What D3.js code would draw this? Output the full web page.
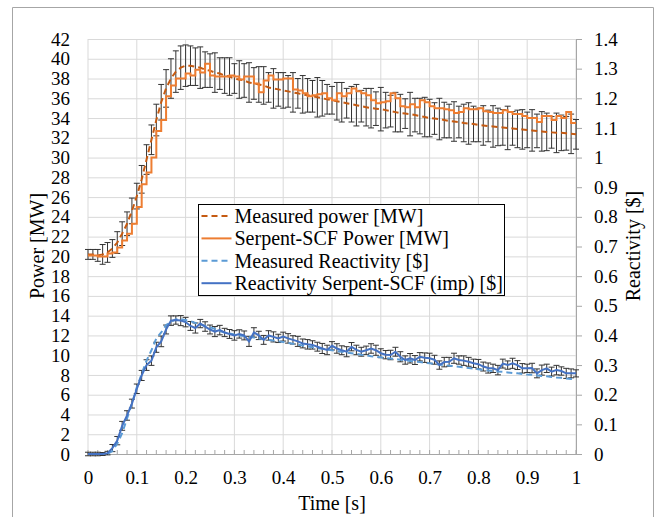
<!DOCTYPE html>
<html>
<head>
<meta charset="utf-8">
<style>
  body { margin: 0; background: #fff; }
  svg { display: block; }
  svg text { font-family: "Liberation Serif", "Times New Roman", Times, "DejaVu Serif", serif; }
</style>
</head>
<body>
<svg width="661" height="517"></svg>
<script src="https://cdn.jsdelivr.net/npm/d3@7"></script>
<script>
// time axis [s]
const times = [
  0.00, 0.01, 0.02, 0.03, 0.04, 0.05, 0.06, 0.07, 0.08, 0.09,
  0.10, 0.11, 0.12, 0.13, 0.14, 0.15, 0.16, 0.17, 0.18, 0.19,
  0.20, 0.21, 0.22, 0.23, 0.24, 0.25, 0.26, 0.27, 0.28, 0.29,
  0.30, 0.31, 0.32, 0.33, 0.34, 0.35, 0.36, 0.37, 0.38, 0.39,
  0.40, 0.41, 0.42, 0.43, 0.44, 0.45, 0.46, 0.47, 0.48, 0.49,
  0.50, 0.51, 0.52, 0.53, 0.54, 0.55, 0.56, 0.57, 0.58, 0.59,
  0.60, 0.61, 0.62, 0.63, 0.64, 0.65, 0.66, 0.67, 0.68, 0.69,
  0.70, 0.71, 0.72, 0.73, 0.74, 0.75, 0.76, 0.77, 0.78, 0.79,
  0.80, 0.81, 0.82, 0.83, 0.84, 0.85, 0.86, 0.87, 0.88, 0.89,
  0.90, 0.91, 0.92, 0.93, 0.94, 0.95, 0.96, 0.97, 0.98, 0.99,
  1.00
]

// Measured power [MW]
const measPower = [
  20.2, 20.2, 20.1, 20.2, 20.4, 20.8, 21.4, 22.3, 23.3, 24.6,
  26.1, 27.8, 29.8, 31.8, 33.8, 35.6, 37.0, 38.0, 38.7, 39.1,
  39.3, 39.3, 39.2, 39.1, 38.9, 38.8, 38.6, 38.5, 38.3, 38.2,
  38.0, 37.9, 37.8, 37.6, 37.5, 37.4, 37.3, 37.1, 37.0, 36.9,
  36.8, 36.7, 36.6, 36.5, 36.4, 36.3, 36.2, 36.1, 36.0, 35.9,
  35.8, 35.7, 35.6, 35.5, 35.4, 35.3, 35.2, 35.1, 35.0, 34.95,
  34.9, 34.8, 34.7, 34.6, 34.5, 34.45, 34.4, 34.3, 34.2, 34.1,
  34.0, 33.95, 33.9, 33.8, 33.7, 33.65, 33.6, 33.5, 33.45, 33.4,
  33.3, 33.25, 33.2, 33.15, 33.1, 33.05, 33.0, 32.95, 32.9, 32.85,
  32.8, 32.75, 32.7, 32.65, 32.6, 32.55, 32.5, 32.5, 32.45, 32.4,
  32.35
]

// error bar half-width on measured power [MW]
const measPowerErr = [
  0.5, 0.5, 0.6, 1.0, 1.0, 0.9, 1.1, 1.2, 1.2, 1.3,
  1.3, 1.4, 1.5, 1.5, 1.6, 1.8, 1.9, 2.0, 2.1, 2.2,
  2.1, 2.0, 1.9, 2.1, 1.8, 1.7, 2.0, 1.6, 1.8, 1.9,
  1.5, 1.9, 1.7, 2.0, 1.6, 1.8, 1.9, 1.5, 2.0, 1.7,
  1.8, 1.6, 2.0, 1.5, 1.9, 1.7, 1.6, 2.0, 1.8, 1.5,
  1.4, 1.9, 2.0, 1.5, 1.8, 2.1, 1.6, 1.9, 2.0, 1.7,
  2.2, 1.8, 1.6, 2.0, 1.9, 1.5, 2.2, 1.7, 1.8, 2.0,
  1.9, 1.6, 2.1, 1.8, 1.7, 2.0, 1.6, 1.9, 2.1, 1.8,
  1.7, 2.0, 1.6, 2.1, 1.9, 1.8, 2.2, 1.7, 1.9, 2.0,
  1.8, 2.1, 1.7, 2.0, 1.9, 1.6, 2.0, 1.8, 1.7, 2.0,
  1.5
]

// Serpent-SCF Power [MW]
const serpPower = [
  20.1, 20.1, 20.0, 20.0, 20.3, 20.4, 20.9, 21.6, 22.3, 23.3,
  25.0, 27.3, 28.5, 30.0, 32.7, 33.8, 36.2, 37.3, 38.0, 38.0,
  38.5, 38.3, 38.9, 38.6, 39.5, 38.3, 38.2, 38.2, 38.2, 38.3,
  38.2, 37.9, 38.2, 38.2, 37.5, 36.6, 37.8, 38.3, 37.9, 37.9,
  38.0, 38.0, 36.9, 36.8, 36.5, 36.2, 36.3, 36.4, 36.5, 36.0,
  35.8, 36.5, 36.2, 36.5, 37.0, 36.7, 36.5, 36.3, 35.8, 35.5,
  35.6, 35.7, 36.5, 36.0, 35.2, 35.1, 35.4, 35.1, 35.8, 35.6,
  35.2, 35.0, 35.0, 34.9, 34.8, 34.5, 34.6, 35.0, 34.9, 34.9,
  35.0, 34.7, 34.6, 34.5, 34.5, 34.8, 34.6, 34.4, 34.4, 34.2,
  34.0, 34.0, 33.6, 34.2, 34.2, 33.8, 34.2, 34.0, 34.6, 33.5,
  33.5
]

// Measured Reactivity [$]
const measReact = [
  0.0, 0.0, 0.0, 0.0, 0.0, 0.01, 0.035, 0.07, 0.12, 0.17,
  0.225, 0.27, 0.315, 0.35, 0.39, 0.41, 0.435, 0.445, 0.455, 0.455,
  0.452, 0.448, 0.442, 0.438, 0.432, 0.428, 0.422, 0.415, 0.41, 0.407,
  0.403, 0.4, 0.398, 0.395, 0.393, 0.39, 0.388, 0.385, 0.383, 0.38,
  0.378, 0.375, 0.372, 0.369, 0.366, 0.363, 0.36, 0.357, 0.355, 0.352,
  0.35, 0.347, 0.345, 0.342, 0.34, 0.338, 0.335, 0.333, 0.33, 0.328,
  0.326, 0.324, 0.322, 0.32, 0.318, 0.316, 0.314, 0.312, 0.31, 0.308,
  0.306, 0.304, 0.302, 0.3, 0.298, 0.296, 0.294, 0.292, 0.29, 0.288,
  0.286, 0.284, 0.282, 0.28, 0.278, 0.277, 0.275, 0.273, 0.272, 0.27,
  0.268, 0.267, 0.265, 0.263, 0.262, 0.26, 0.258, 0.257, 0.255, 0.253,
  0.252
]

// Reactivity Serpent-SCF (imp) [$]
const serpReact = [
  0.0, 0.0, 0.0, 0.0, 0.003, 0.02, 0.045, 0.095, 0.13, 0.17,
  0.22, 0.265, 0.3, 0.315, 0.36, 0.38, 0.42, 0.45, 0.452, 0.45,
  0.445, 0.432, 0.425, 0.44, 0.43, 0.42, 0.413, 0.418, 0.41, 0.405,
  0.4, 0.405, 0.4, 0.38, 0.41, 0.4, 0.385, 0.4, 0.395, 0.39,
  0.396, 0.39, 0.385, 0.38, 0.373, 0.37, 0.368, 0.362, 0.356, 0.351,
  0.365, 0.356, 0.35, 0.345, 0.362, 0.351, 0.345, 0.35, 0.356, 0.35,
  0.34, 0.335, 0.334, 0.345, 0.328, 0.317, 0.323, 0.317, 0.328, 0.325,
  0.323, 0.318, 0.3, 0.31, 0.311, 0.323, 0.317, 0.315, 0.311, 0.306,
  0.303, 0.295, 0.29, 0.289, 0.283, 0.305, 0.3, 0.306, 0.3, 0.289,
  0.289, 0.29, 0.272, 0.283, 0.289, 0.278, 0.283, 0.28, 0.272, 0.272,
  0.272
]

// error bar half-width on reactivity [$]
const reactErr = [
  0.006, 0.006, 0.006, 0.005, 0.006, 0.012, 0.014, 0.015, 0.016, 0.015,
  0.016, 0.017, 0.018, 0.016, 0.017, 0.018, 0.015, 0.016, 0.014, 0.017,
  0.016, 0.015, 0.017, 0.014, 0.016, 0.015, 0.017, 0.016, 0.014, 0.015,
  0.016, 0.014, 0.015, 0.017, 0.016, 0.014, 0.015, 0.016, 0.017, 0.014,
  0.015, 0.016, 0.014, 0.017, 0.015, 0.016, 0.014, 0.015, 0.017, 0.016,
  0.014, 0.016, 0.015, 0.017, 0.014, 0.016, 0.015, 0.014, 0.016, 0.017,
  0.015, 0.014, 0.016, 0.015, 0.017, 0.014, 0.016, 0.015, 0.014, 0.016,
  0.017, 0.015, 0.014, 0.016, 0.015, 0.017, 0.014, 0.016, 0.015, 0.014,
  0.016, 0.015, 0.017, 0.014, 0.016, 0.015, 0.014, 0.017, 0.015, 0.016,
  0.014, 0.016, 0.015, 0.017, 0.014, 0.015, 0.016, 0.014, 0.017, 0.015,
  0.012
]

// tick labels
const powerTicks = [0, 2, 4, 6, 8, 10, 12, 14, 16, 18, 20, 22, 24, 26, 28, 30, 32, 34, 36, 38, 40, 42]
const reactTicks = [0, 0.1, 0.2, 0.3, 0.4, 0.5, 0.6, 0.7, 0.8, 0.9, 1, 1.1, 1.2, 1.3, 1.4]
const timeTicks = [0, 0.1, 0.2, 0.3, 0.4, 0.5, 0.6, 0.7, 0.8, 0.9, 1]

const legendItems = [
  { label: 'Measured power [MW]', color: '#c55a11', dash: '6,4' },
  { label: 'Serpent-SCF Power [MW]', color: '#ed7d31', dash: null },
  { label: 'Measured Reactivity [$]', color: '#5b9bd5', dash: '6,4' },
  { label: 'Reactivity Serpent-SCF (imp) [$]', color: '#4472c4', dash: null }
]

const serif = '"Liberation Serif", "Times New Roman", Times, "DejaVu Serif", serif'

const svg = d3.select('svg')
const width = +svg.attr('width')
const height = +svg.attr('height')
const margin = { top: 39, right: 85, bottom: 63, left: 88 }
const innerWidth = width - margin.left - margin.right
const innerHeight = height - margin.top - margin.bottom

const fmt = d => String(Math.round(d * 10) / 10)

// outer chart border (runs off the bottom edge like the original)
svg.append('path')
  .attr('d', `M12.5,${height} V7.5 H653.5 V${height}`)
  .attr('fill', 'none')
  .attr('stroke', '#a6a6a6')

const xScale = d3.scaleLinear().domain([0, 1]).range([0, innerWidth])
const yPower = d3.scaleLinear().domain([0, 42]).range([innerHeight, 0])
const yReact = d3.scaleLinear().domain([0, 1.4]).range([innerHeight, 0])

const g = svg.append('g')
  .attr('transform', `translate(${margin.left}, ${margin.top})`)

// vertical grid
g.selectAll('.vgrid').data(timeTicks)
  .enter().append('line')
  .attr('class', 'vgrid')
  .attr('x1', d => xScale(d)).attr('x2', d => xScale(d))
  .attr('y1', 0).attr('y2', innerHeight)
  .attr('stroke', '#d9d9d9')

// left axis + horizontal grid
const yAxisG = g.append('g')
  .call(d3.axisLeft(yPower).tickValues(powerTicks).tickSize(-innerWidth).tickPadding(18).tickFormat(fmt))
yAxisG.select('.domain').remove()
yAxisG.selectAll('.tick line').attr('stroke', '#d9d9d9')

// bottom axis
const xAxisG = g.append('g')
  .attr('transform', `translate(0, ${innerHeight})`)
  .call(d3.axisBottom(xScale).tickValues(timeTicks).tickSize(0).tickSizeOuter(0).tickPadding(17).tickFormat(fmt))
xAxisG.select('.domain').attr('stroke', '#a6a6a6')

g.selectAll('.minor').data(xScale.ticks(50))
  .enter().append('line')
  .attr('class', 'minor')
  .attr('x1', d => xScale(d)).attr('x2', d => xScale(d))
  .attr('y1', innerHeight).attr('y2', innerHeight - 4)
  .attr('stroke', '#a6a6a6')

// right axis
const yRAxisG = g.append('g')
  .attr('transform', `translate(${innerWidth}, 0)`)
  .call(d3.axisRight(yReact).tickValues(reactTicks).tickSize(6).tickSizeOuter(0).tickPadding(12).tickFormat(fmt))
yRAxisG.select('.domain').attr('stroke', '#a6a6a6')
yRAxisG.selectAll('.tick line').attr('stroke', '#a6a6a6')

g.selectAll('.tick text')
  .attr('font-family', serif)
  .attr('font-size', 19)
  .attr('fill', '#000')

const drawErrorBars = (cls, vals, errs, yScale) => {
  const eb = g.append('g').attr('class', cls)
    .attr('stroke', '#333').attr('stroke-width', 1)
  times.forEach((t, i) => {
    const x = xScale(t)
    const y0 = yScale(vals[i] - errs[i])
    const y1 = yScale(vals[i] + errs[i])
    eb.append('line').attr('x1', x).attr('x2', x).attr('y1', y0).attr('y2', y1)
    eb.append('line').attr('x1', x - 3).attr('x2', x + 3).attr('y1', y0).attr('y2', y0)
    eb.append('line').attr('x1', x - 3).attr('x2', x + 3).attr('y1', y1).attr('y2', y1)
  })
}

const drawLine = (vals, yScale, color, dash, curve) => {
  const line = d3.line()
    .x((d, i) => xScale(times[i]))
    .y(d => yScale(d))
    .curve(curve || d3.curveLinear)
  g.append('path')
    .datum(vals)
    .attr('d', line)
    .attr('fill', 'none')
    .attr('stroke', color)
    .attr('stroke-width', 2)
    .attr('stroke-dasharray', dash)
}

drawErrorBars('err-power', measPower, measPowerErr, yPower)
drawLine(measPower, yPower, legendItems[0].color, legendItems[0].dash)
drawLine(serpPower, yPower, legendItems[1].color, null, d3.curveStepAfter)

drawErrorBars('err-react', serpReact, reactErr, yReact)
drawLine(measReact, yReact, legendItems[2].color, legendItems[2].dash)
drawLine(serpReact, yReact, legendItems[3].color, null)

// axis titles
svg.append('text')
  .attr('transform', 'translate(37, 246) rotate(-90)')
  .attr('text-anchor', 'middle').attr('dy', '0.35em')
  .attr('font-family', serif)
  .attr('font-size', 20)
  .text('Power [MW]')

svg.append('text')
  .attr('transform', 'translate(633, 246) rotate(-90)')
  .attr('text-anchor', 'middle').attr('dy', '0.35em')
  .attr('font-family', serif)
  .attr('font-size', 20)
  .text('Reactivity [$]')

svg.append('text')
  .attr('x', 332).attr('y', 503)
  .attr('text-anchor', 'middle').attr('dy', '0.35em')
  .attr('font-family', serif)
  .attr('font-size', 20)
  .text('Time [s]')

// legend
const legend = svg.append('g')
  .attr('transform', 'translate(198.5, 204.5)')

legend.append('rect')
  .attr('width', 306).attr('height', 91)
  .attr('fill', '#fff')
  .attr('stroke', '#000')

const rows = legend.selectAll('.row').data(legendItems)
  .enter().append('g')
  .attr('class', 'row')
  .attr('transform', (d, i) => `translate(0, ${11.5 + i * 22.4})`)

rows.append('line')
  .attr('x1', 3).attr('x2', 33)
  .attr('stroke', d => d.color)
  .attr('stroke-width', 2)
  .attr('stroke-dasharray', d => d.dash)

rows.append('text')
  .attr('x', 36).attr('dy', '0.35em')
  .attr('font-family', serif)
  .attr('font-size', 20)
  .text(d => d.label)
</script>
</body>
</html>
